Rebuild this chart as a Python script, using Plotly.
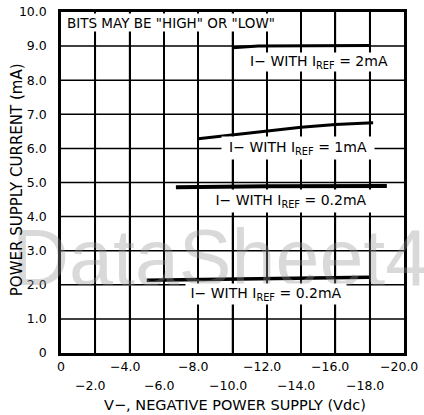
import plotly.graph_objects as go

# ---- data ----
x_2ma = [-10.0, -11.5, -18.0]
y_2ma = [8.95, 9.0, 9.02]

x_1ma = [-8.0, -10.0, -12.0, -14.0, -16.0, -18.2]
y_1ma = [6.28, 6.40, 6.52, 6.62, 6.70, 6.75]

x_02a = [-6.7, -8.0, -12.0, -19.0]
y_02a = [4.86, 4.87, 4.89, 4.90]

x_02b = [-5.0, -10.0, -18.0]
y_02b = [2.13, 2.17, 2.22]

xtick_row1 = [0, -4, -8, -12, -16, -20]
xtick_row1_text = ["0", "\u22124.0", "\u22128.0", "\u221212.0", "\u221216.0", "\u221220.0"]
xtick_row2 = [-2, -6, -10, -14, -18]
xtick_row2_text = ["\u22122.0", "\u22126.0", "\u221210.0", "\u221214.0", "\u221218.0"]
xgrid = [-2, -4, -6, -8, -10, -12, -14, -16, -18]

ytick_vals = [0, 1, 2, 3, 4, 5, 6, 7, 8, 9, 10]
ytick_text = ["0", "1.0", "2.0", "3.0", "4.0", "5.0", "6.0", "7.0", "8.0", "9.0", "10.0"]
ygrid = [1, 2, 3, 4, 5, 6, 7, 8, 9]

label_2ma = "I\u2212 WITH I<sub>REF</sub> = 2mA"
label_1ma = "I\u2212 WITH I<sub>REF</sub> = 1mA"
label_02 = "I\u2212 WITH I<sub>REF</sub> = 0.2mA"
note_text = "BITS MAY BE \"HIGH\" OR \"LOW\""
x_title = "V\u2212, NEGATIVE POWER SUPPLY (Vdc)"
y_title = "POWER SUPPLY CURRENT (mA)"
watermark = "DataSheet4"

FONT = "DejaVu Sans"

fig = go.Figure()

# grid lines as line traces (drawn first, under the curves)
gxs, gys = [], []
for gx in xgrid:
    gxs += [gx, gx, None]
    gys += [0, 10, None]
for gy in ygrid:
    gxs += [0, -20, None]
    gys += [gy, gy, None]
fig.add_trace(go.Scatter(x=gxs, y=gys, mode="lines", line=dict(color="black", width=1.5),
                         showlegend=False, hoverinfo="skip", connectgaps=False))

for xs, ys, w in [(x_2ma, y_2ma, 3), (x_1ma, y_1ma, 3), (x_02a, y_02a, 4), (x_02b, y_02b, 3.5)]:
    fig.add_trace(go.Scatter(x=xs, y=ys, mode="lines", line=dict(color="black", width=w),
                             showlegend=False, hoverinfo="skip"))

ann = []
# watermark
ann.append(dict(text=watermark, xref="paper", yref="paper", x=-0.149, y=0.28,
                xanchor="left", yanchor="middle", showarrow=False,
                font=dict(family="Liberation Sans", size=79, color="rgba(150,150,150,0.36)")))

def lab(text, x, y, w, h, size=14):
    return dict(text=text, xref="x", yref="y", x=x, y=y, xanchor="center", yanchor="middle",
                showarrow=False, bgcolor="white", width=w, height=h, borderpad=0,
                font=dict(family=FONT, size=size, color="black"))

ann.append(lab(note_text, -6.39, 9.70, 216, 17, 13.5))
ann.append(lab(label_2ma, -15.04, 8.54, 162, 18))
ann.append(lab(label_1ma, -13.84, 6.02, 152, 22))
ann.append(lab(label_02, -13.4, 4.46, 160, 22))
ann.append(lab(label_02, -11.94, 1.72, 160, 20))

# x tick labels (two staggered rows)
for v, t in zip(xtick_row1, xtick_row1_text):
    ann.append(dict(text=t, xref="x", yref="paper", x=v, y=-0.041, xanchor="center", yanchor="middle",
                    xshift=(-5 if v != 0 else 0), showarrow=False,
                    font=dict(family=FONT, size=12.5, color="black")))
for v, t in zip(xtick_row2, xtick_row2_text):
    ann.append(dict(text=t, xref="x", yref="paper", x=v, y=-0.094, xanchor="center", yanchor="middle",
                    xshift=-5, showarrow=False,
                    font=dict(family=FONT, size=12.5, color="black")))
# axis titles
ann.append(dict(text=x_title, xref="paper", yref="paper", x=0.508, y=-0.152, xanchor="center",
                yanchor="middle", showarrow=False, font=dict(family=FONT, size=14.5, color="black")))
ann.append(dict(text=y_title, xref="paper", yref="paper", x=-0.128, y=0.507, xanchor="center",
                yanchor="middle", showarrow=False, textangle=-90,
                font=dict(family=FONT, size=15, color="black")))

fig.update_layout(
    width=424, height=415,
    margin=dict(l=61, r=20, t=12, b=62),
    paper_bgcolor="white", plot_bgcolor="white",
    annotations=ann,
    xaxis=dict(range=[0, -20], showgrid=True, gridcolor="black", gridwidth=2, dtick=2, tick0=0,
               automargin=False, zeroline=False, showline=True, mirror=True, linecolor="black",
               linewidth=2.5, showticklabels=False, ticks=""),
    yaxis=dict(range=[0, 10], tickvals=ytick_vals, ticktext=ytick_text, showgrid=False,
               automargin=False, zeroline=False, showline=True, mirror=True,
               linecolor="black", linewidth=2.5, ticks="", ticklabelstandoff=9,
               tickfont=dict(family=FONT, size=12.5, color="black")),
)

fig.write_html("out.html")
